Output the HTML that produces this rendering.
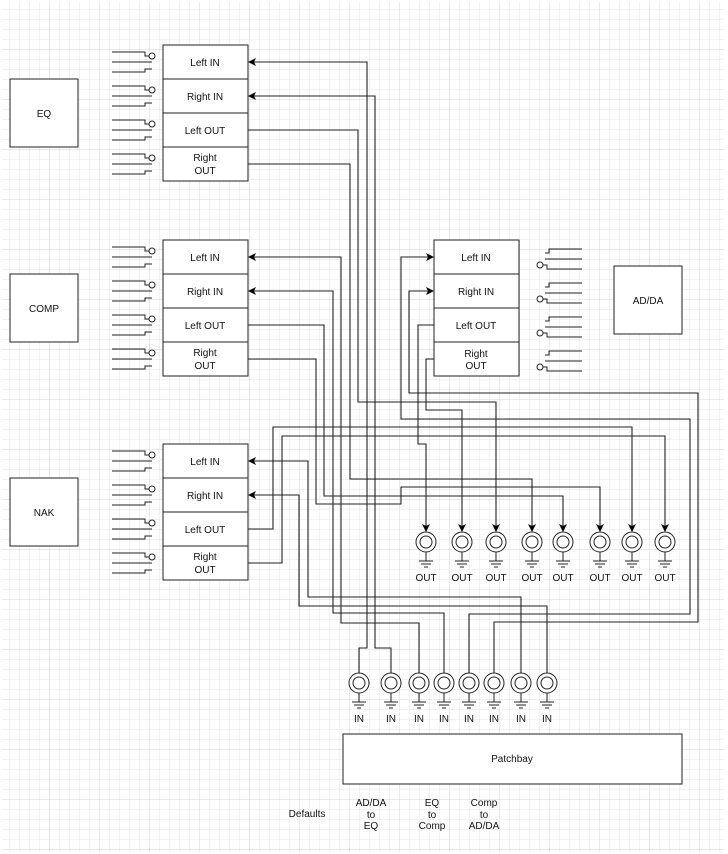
<!DOCTYPE html>
<html><head><meta charset="utf-8"><style>
html,body{margin:0;padding:0;background:#fff}
svg{display:block}
text{font-family:"Liberation Sans",sans-serif;font-size:10px;fill:#111}
</style></head><body>
<svg width="728" height="854" viewBox="0 0 728 854" xmlns="http://www.w3.org/2000/svg">
<defs>
<pattern id="g" width="10" height="10" patternUnits="userSpaceOnUse"><path d="M10,0V10H0" fill="none" stroke="#e4e4e4" stroke-width="1"/></pattern>
<pattern id="G" width="50" height="50" patternUnits="userSpaceOnUse"><rect width="50" height="50" fill="url(#g)"/><path d="M50,0V50H0" fill="none" stroke="#d4d4d4" stroke-width="1"/></pattern>
<marker id="a" markerWidth="8" markerHeight="8" refX="7" refY="4" orient="auto" markerUnits="userSpaceOnUse"><path d="M0,0L8,4L0,8L2,4z" fill="#000"/></marker>
<g id="swL" fill="none" stroke="#222" stroke-width="1"><path d="M112,-10H145V-6H149M112,0H152M112,10H145V7H152"/><circle cx="152" cy="-6" r="3" fill="#fff"/></g>
<g id="swR" fill="none" stroke="#222" stroke-width="1"><path d="M582,-8H549V-4H545M582,2H545M582,12H547V8H543"/><circle cx="540" cy="8" r="3" fill="#fff"/></g>
<g id="jk" fill="none" stroke="#222" stroke-width="1"><circle r="10" fill="#fff"/><circle r="6"/><path d="M0,10V19M-7,19H7M-5,22H5M-2,25H2"/></g>
</defs>
<rect width="728" height="854" fill="#fff"/>
<rect x="2" y="2" width="722" height="850" fill="url(#G)"/>

<g fill="#fff" stroke="#222" stroke-width="1">
<rect x="10" y="79" width="68" height="68"/>
<rect x="10" y="274" width="68" height="68"/>
<rect x="10" y="478" width="68" height="68"/>
<rect x="614" y="266" width="68" height="68"/>
<rect x="343" y="734" width="339" height="50"/>
<g id="blk"><rect x="163" y="45" width="85" height="34"/><rect x="163" y="79" width="85" height="34"/><rect x="163" y="113" width="85" height="34"/><rect x="163" y="147" width="85" height="34"/></g>
<use href="#blk" y="195"/><use href="#blk" y="399"/><use href="#blk" x="271" y="195"/>
</g>

<use href="#swL" y="62"/><use href="#swL" y="96"/><use href="#swL" y="130"/><use href="#swL" y="164"/>
<use href="#swL" y="257"/><use href="#swL" y="291"/><use href="#swL" y="325"/><use href="#swL" y="359"/>
<use href="#swL" y="461"/><use href="#swL" y="495"/><use href="#swL" y="529"/><use href="#swL" y="563"/>
<use href="#swR" y="257"/><use href="#swR" y="291"/><use href="#swR" y="325"/><use href="#swR" y="359"/>

<g fill="none" stroke="#222" stroke-width="1.1">
<!-- inputs with arrows to blocks -->
<path d="M359,673V648H367V62H249" marker-end="url(#a)"/>
<path d="M391,673V648H375V96H249" marker-end="url(#a)"/>
<path d="M419,673V623H341V257H249" marker-end="url(#a)"/>
<path d="M444,673V613H333V291H249" marker-end="url(#a)"/>
<path d="M521,673V597H308V461H249" marker-end="url(#a)"/>
<path d="M547,673V606H299V495H249" marker-end="url(#a)"/>
<path d="M469,673V614H690V419H401V257H433" marker-end="url(#a)"/>
<path d="M494,673V622H698V393H409V291H433" marker-end="url(#a)"/>
<!-- outputs to OUT jacks -->
<path d="M248,130H358V402H496V531" marker-end="url(#a)"/>
<path d="M248,164H350V479H532V531" marker-end="url(#a)"/>
<path d="M248,325H324V496H563V531" marker-end="url(#a)"/>
<path d="M248,359H316V504H401V487H600V531" marker-end="url(#a)"/>
<path d="M248,529H273V427H632V531" marker-end="url(#a)"/>
<path d="M248,563H282V436H665V531" marker-end="url(#a)"/>
<path d="M434,325H418V444H426V531" marker-end="url(#a)"/>
<path d="M434,359H426V410H462V531" marker-end="url(#a)"/>
</g>

<use href="#jk" x="426" y="542"/><use href="#jk" x="462" y="542"/><use href="#jk" x="496" y="542"/><use href="#jk" x="532" y="542"/>
<use href="#jk" x="563" y="542"/><use href="#jk" x="600" y="542"/><use href="#jk" x="632" y="542"/><use href="#jk" x="665" y="542"/>
<use href="#jk" x="359" y="683"/><use href="#jk" x="391" y="683"/><use href="#jk" x="419" y="683"/><use href="#jk" x="444" y="683"/>
<use href="#jk" x="469" y="683"/><use href="#jk" x="494" y="683"/><use href="#jk" x="521" y="683"/><use href="#jk" x="547" y="683"/>

<g text-anchor="middle">
<text x="44" y="117">EQ</text><text x="44" y="312">COMP</text><text x="44" y="516">NAK</text><text x="648" y="304">AD/DA</text>
<text x="205" y="66">Left IN</text><text x="205" y="100">Right IN</text><text x="205" y="134">Left OUT</text><text x="205" y="161">Right</text><text x="205" y="174">OUT</text>
<text x="205" y="261">Left IN</text><text x="205" y="295">Right IN</text><text x="205" y="329">Left OUT</text><text x="205" y="356">Right</text><text x="205" y="369">OUT</text>
<text x="205" y="465">Left IN</text><text x="205" y="499">Right IN</text><text x="205" y="533">Left OUT</text><text x="205" y="560">Right</text><text x="205" y="573">OUT</text>
<text x="476" y="261">Left IN</text><text x="476" y="295">Right IN</text><text x="476" y="329">Left OUT</text><text x="476" y="357">Right</text><text x="476" y="369">OUT</text>
<text x="426" y="581">OUT</text><text x="462" y="581">OUT</text><text x="496" y="581">OUT</text><text x="532" y="581">OUT</text><text x="563" y="581">OUT</text><text x="600" y="581">OUT</text><text x="632" y="581">OUT</text><text x="665" y="581">OUT</text>
<text x="359" y="722">IN</text><text x="391" y="722">IN</text><text x="419" y="722">IN</text><text x="444" y="722">IN</text><text x="469" y="722">IN</text><text x="494" y="722">IN</text><text x="521" y="722">IN</text><text x="547" y="722">IN</text>
<text x="512" y="762">Patchbay</text>
<text x="307" y="817">Defaults</text>
<text x="371" y="806">AD/DA</text><text x="371" y="818">to</text><text x="371" y="829">EQ</text>
<text x="432" y="806">EQ</text><text x="432" y="818">to</text><text x="432" y="829">Comp</text>
<text x="484" y="806">Comp</text><text x="484" y="818">to</text><text x="484" y="829">AD/DA</text>
</g>
</svg>
</body></html>
